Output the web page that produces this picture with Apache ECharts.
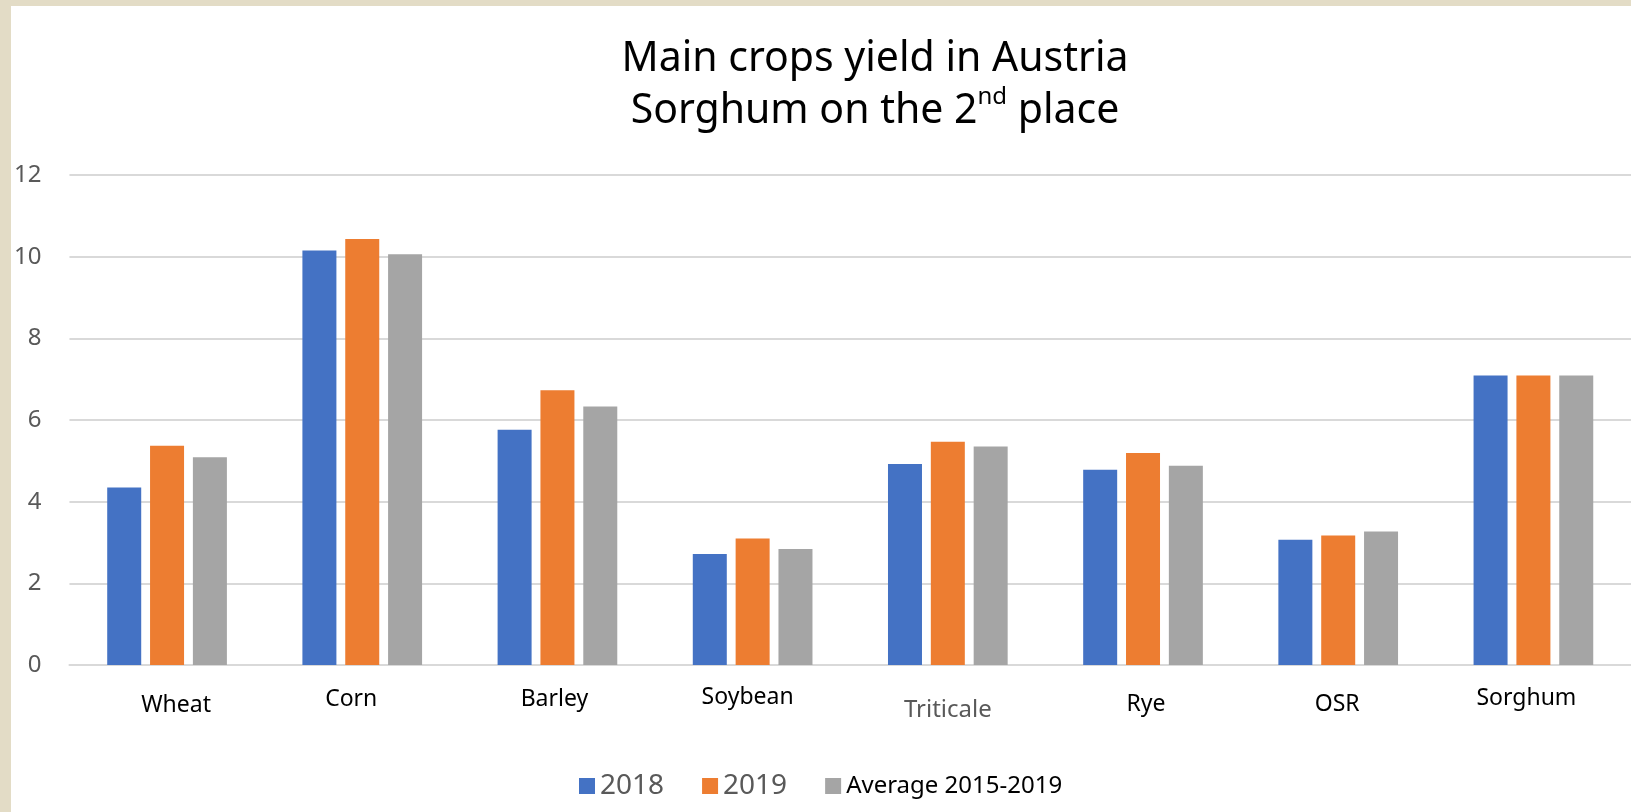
<!DOCTYPE html>
<html>
<head>
<meta charset="utf-8">
<script src="https://cdn.jsdelivr.net/npm/echarts@6/dist/echarts.min.js"></script>
<style>
  html, body { margin: 0; padding: 0; background: #e3dcc6; overflow: hidden; }
  #chart { position: absolute; left: 11px; top: 6px; width: 1620px; height: 806px; background: #ffffff; }
</style>
</head>
<body>
<div id="chart"></div>
<script>
// crop yields (t/ha)
var crops = ["Wheat", "Corn", "Barley", "Soybean", "Triticale", "Rye", "OSR", "Sorghum"];
var yield2018 = [4.35, 10.15, 5.76, 2.72, 4.92, 4.78, 3.07, 7.09];
var yield2019 = [5.37, 10.43, 6.73, 3.10, 5.47, 5.19, 3.17, 7.09];
var yieldAvg = [5.09, 10.06, 6.33, 2.84, 5.35, 4.88, 3.27, 7.09];
var seriesNames = ["2018", "2019", "Average 2015-2019"];
var yTicks = [0, 2, 4, 6, 8, 10, 12];

// the category labels in the original sit a bit off-centre, nudge them [dx, dy]
var labelNudge = {
  Wheat: [9, 9], Corn: [-11, 3], Barley: [-3, 3], Soybean: [-5, 1],
  Triticale: [0, 13], Rye: [3, 8], OSR: [-1, 8], Sorghum: [-7, 2]
};

var rich = {};
crops.forEach(function (c, i) {
  var n = labelNudge[c];
  rich["c" + i] = {
    fontFamily: "Noto Sans",
    fontSize: c === "Triticale" ? 24 : 23,
    color: c === "Triticale" ? "#595959" : "#000000",
    padding: [n[1], n[0] < 0 ? -2 * n[0] : 0, 0, n[0] > 0 ? 2 * n[0] : 0]
  };
});

var myChart = echarts.init(document.getElementById("chart"));
var option = {
  backgroundColor: "#ffffff",
  animation: false,
  color: ["#4472c4", "#ed7d31", "#a5a5a5"],
  title: {
    text: "{t|Main crops yield in Austria}\n{t|Sorghum on the 2}{sup|nd}{t| place}",
    left: 859,
    top: 22,
    textAlign: "center",
    textStyle: {
      rich: {
        t: { fontFamily: "Noto Sans", fontSize: 41, fontWeight: "normal", color: "#000000", lineHeight: 52 },
        sup: { fontFamily: "Noto Sans", fontSize: 24, fontWeight: "normal", color: "#000000", verticalAlign: "top", lineHeight: 40 }
      }
    }
  },
  legend: {
    left: 563,
    top: 761,
    icon: "rect",
    itemWidth: 16,
    itemHeight: 16,
    itemGap: 38,
    data: [
      { name: seriesNames[0], textStyle: { color: "#595959", fontSize: 28, fontFamily: "Noto Sans" } },
      { name: seriesNames[1], textStyle: { color: "#595959", fontSize: 28, fontFamily: "Noto Sans" } },
      { name: seriesNames[2], textStyle: { color: "#000000", fontSize: 24, fontFamily: "Noto Sans" } }
    ]
  },
  grid: {
    left: 57,
    right: -12,
    top: 169,
    bottom: 147,
    containLabel: false
  },
  xAxis: {
    type: "category",
    data: crops,
    axisLine: { show: true, lineStyle: { color: "#d9d9d9", width: 2 } },
    axisTick: { show: false },
    axisLabel: {
      margin: 20,
      interval: 0,
      formatter: function (value, index) {
        return "{c" + index + "|" + value + "}";
      },
      rich: rich
    }
  },
  yAxis: {
    type: "value",
    min: yTicks[0],
    max: yTicks[yTicks.length - 1],
    interval: 2,
    axisLine: { show: false },
    axisTick: { show: false },
    axisLabel: {
      margin: 28,
      color: "#595959",
      fontSize: 24,
      fontFamily: "Noto Sans"
    },
    splitLine: {
      show: true,
      lineStyle: { color: "#d9d9d9", width: 2 }
    }
  },
  series: [
    { name: seriesNames[0], type: "bar", data: yield2018, barWidth: 34, barGap: "26%" },
    { name: seriesNames[1], type: "bar", data: yield2019, barWidth: 34, barGap: "26%" },
    { name: seriesNames[2], type: "bar", data: yieldAvg, barWidth: 34, barGap: "26%" }
  ]
};
myChart.setOption(option, true);
window.addEventListener("resize", function () {
  myChart.resize();
});
</script>
</body>
</html>
